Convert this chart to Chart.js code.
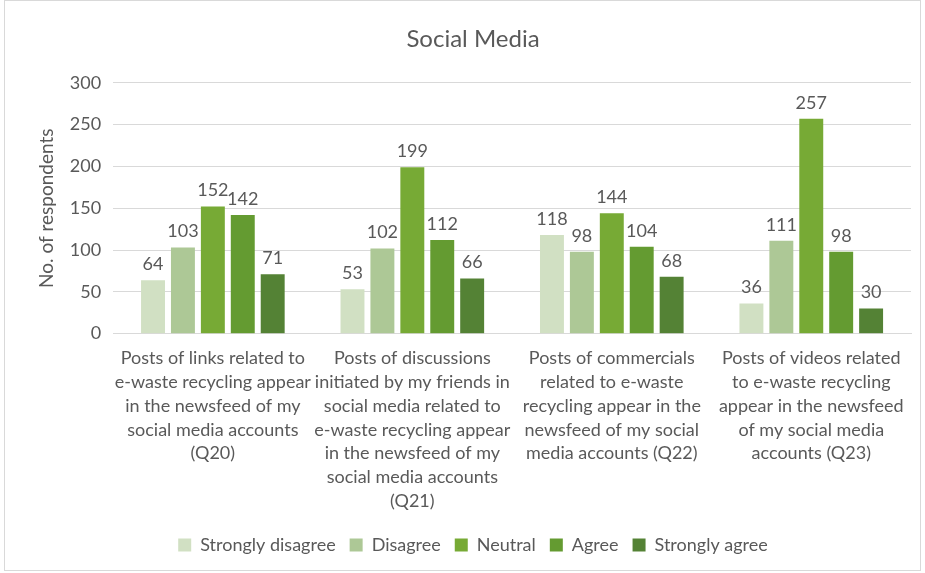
<!DOCTYPE html>
<html>
<head>
<meta charset="utf-8">
<script src="https://cdn.jsdelivr.net/npm/chart.js@4/dist/chart.umd.min.js"></script>
<style>
  body { margin: 0; background: #fff; }
  #wrap { position: absolute; left: 4px; top: 0; width: 917px; height: 571px; border: 1px solid #d9d9d9; box-sizing: border-box; }
</style>
</head>
<body>
<div id="wrap"><canvas id="grafik"></canvas></div>
<script>
  var kategori = [
    ["Posts of links related to", "e-waste recycling appear", "in the newsfeed of my", "social media accounts", "(Q20)"],
    ["Posts of discussions", "initiated by my friends in", "social media related to", "e-waste recycling appear", "in the newsfeed of my", "social media accounts", "(Q21)"],
    ["Posts of commercials", "related to e-waste", "recycling appear in the", "newsfeed of my social", "media accounts (Q22)"],
    ["Posts of videos related", "to e-waste recycling", "appear in the newsfeed", "of my social media", "accounts (Q23)"]
  ];
  var stronglyDisagree = [64, 53, 118, 36];
  var disagree = [103, 102, 98, 111];
  var neutral = [152, 199, 144, 257];
  var agree = [142, 112, 104, 98];
  var stronglyAgree = [71, 66, 68, 30];
  var yTicks = [0, 50, 100, 150, 200, 250, 300];

  var teks = "#595959";
  var huruf = "Lato, 'Open Sans', sans-serif";

  var labelNilai = {
    id: "labelNilai",
    afterDatasetsDraw: function(chart) {
      var ctx = chart.ctx;
      ctx.save();
      ctx.font = "18px " + huruf;
      ctx.fillStyle = teks;
      ctx.textAlign = "center";
      ctx.textBaseline = "bottom";
      chart.data.datasets.forEach(function(ds, i) {
        chart.getDatasetMeta(i).data.forEach(function(bar, j) {
          ctx.fillText(ds.data[j], bar.x, bar.y - 7);
        });
      });
      ctx.restore();
    }
  };

  new Chart(document.getElementById("grafik").getContext("2d"), {
    type: "bar",
    data: {
      labels: kategori,
      datasets: [
        { label: "Strongly disagree", data: stronglyDisagree, backgroundColor: "#d1e0c3" },
        { label: "Disagree", data: disagree, backgroundColor: "#adc896" },
        { label: "Neutral", data: neutral, backgroundColor: "#77aa35" },
        { label: "Agree", data: agree, backgroundColor: "#649b31" },
        { label: "Strongly agree", data: stronglyAgree, backgroundColor: "#548235" }
      ]
    },
    options: {
      responsive: true,
      maintainAspectRatio: false,
      animation: false,
      datasets: { bar: { categoryPercentage: 0.75, barPercentage: 0.8 } },
      layout: { padding: { left: 30, right: 9, top: 10, bottom: 6 } },
      plugins: {
        title: {
          display: true,
          text: "Social Media",
          color: teks,
          font: { family: huruf, size: 24, weight: "normal" },
          padding: { top: 14, bottom: 29 }
        },
        legend: {
          position: "bottom",
          labels: {
            color: teks,
            font: { family: huruf, size: 18 },
            boxWidth: 13,
            boxHeight: 13,
            padding: 14
          }
        },
        tooltip: { enabled: false }
      },
      scales: {
        x: {
          grid: { display: false },
          border: { color: "#d9d9d9" },
          afterFit: function(axis) { axis.height += 4; },
          ticks: {
            color: teks,
            font: { family: huruf, size: 18, lineHeight: 1.32 },
            autoSkip: false,
            maxRotation: 0,
            padding: 5
          }
        },
        y: {
          min: 0,
          max: 300,
          afterBuildTicks: function(axis) {
            axis.ticks = yTicks.map(function(v) { return { value: v }; });
          },
          grid: { color: "#d9d9d9", drawTicks: false },
          border: { display: false },
          ticks: { color: teks, font: { family: huruf, size: 18 }, padding: 12 },
          title: {
            display: true,
            text: "No. of respondents",
            color: teks,
            font: { family: huruf, size: 19 },
            padding: 0
          }
        }
      }
    },
    plugins: [labelNilai]
  });
</script>
</body>
</html>
